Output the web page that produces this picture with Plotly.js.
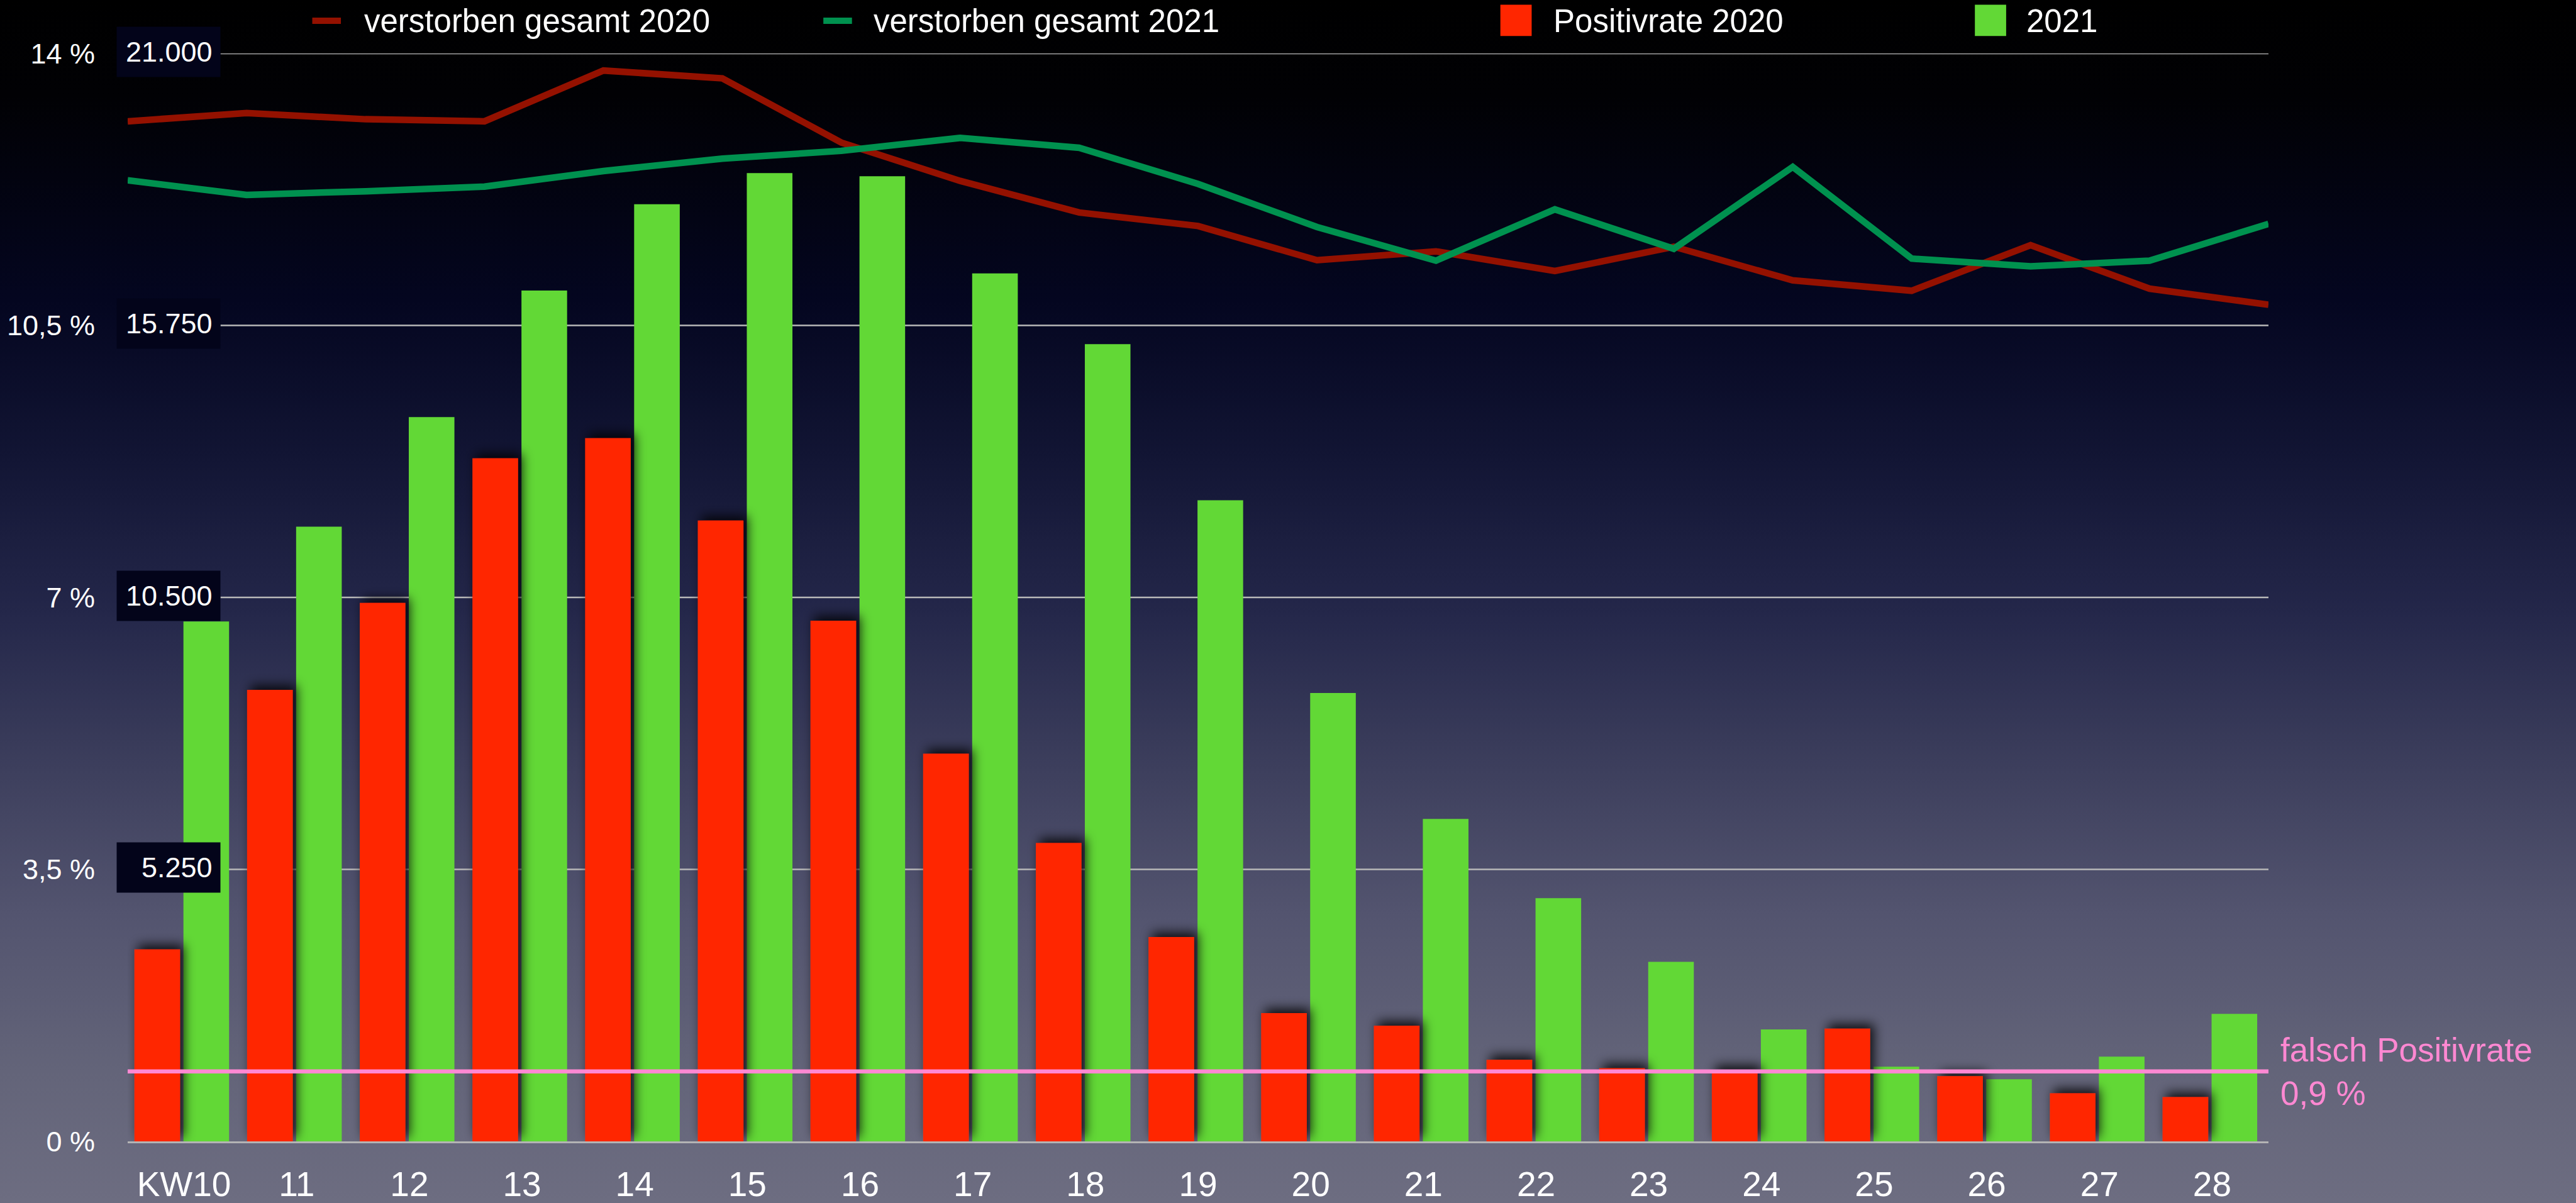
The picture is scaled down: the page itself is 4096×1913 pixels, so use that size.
<!DOCTYPE html>
<html>
<head>
<meta charset="utf-8">
<script src="https://cdn.plot.ly/plotly-3.0.1.min.js"></script>
<style>
html, body { margin: 0; padding: 0; width: 4096px; height: 1913px; overflow: hidden;
  background: linear-gradient(to bottom, #000000 0%, #010104 8%, #040620 25%, #121534 38%, #24274a 51%, #3d3f5d 64%, #53546f 76%, #636479 89%, #6d6d81 100%); }
#chart { width: 4096px; height: 1913px; }
</style>
</head>
<body>
<div id="chart"></div>
<script>
// ---------- data ----------
const weeks = ["KW10","11","12","13","14","15","16","17","18","19","20","21","22","23","24","25","26","27","28"];
const weekNumbers = [10,11,12,13,14,15,16,17,18,19,20,21,22,23,24,25,26,27,28];
const positivrate2020 = [2.47, 5.81, 6.93, 8.79, 9.05, 7.99, 6.70, 4.99, 3.84, 2.63, 1.65, 1.49, 1.05, 0.94, 0.92, 1.45, 0.84, 0.62, 0.57];
const positivrate2021 = [6.69, 7.91, 9.32, 10.95, 12.06, 12.46, 12.42, 11.17, 10.26, 8.25, 5.77, 4.15, 3.13, 2.31, 1.44, 0.96, 0.80, 1.09, 1.64];
const verstorben2020 = [19690, 19850, 19730, 19690, 20670, 20520, 19280, 18540, 17930, 17670, 17010, 17180, 16800, 17270, 16620, 16420, 17300, 16460, 16150];
const verstorben2021 = [18550, 18270, 18340, 18430, 18730, 18970, 19120, 19370, 19180, 18480, 17650, 17000, 17990, 17230, 18810, 17040, 16890, 17000, 17710];
const falschPositivrate = 0.9;
const yTickVals = [0, 3.5, 7, 10.5, 14];
const yTickText = ["0 %", "3,5 %", "7 %", "10,5 %", "14 %"];
const y2TickVals = [5250, 10500, 15750, 21000];
const y2TickText = ["5.250", "10.500", "15.750", "21.000"];
const gridVals = [3.5, 7, 10.5, 14];
const seriesNames = ["verstorben gesamt 2020", "verstorben gesamt 2021", "Positivrate 2020", "2021"];

// ---------- style ----------
const S = 0.843;
const W = 4096, H = 1913;
const ml = 203, mr = 489, mt = 85, mb = 98;
const pw = W - ml - mr, ph = H - mt - mb;
const fx = px => (px - ml) / pw;      // output px -> paper x
const fy = py => (H - mb - py) / ph;  // output px -> paper y
const R = v => v * S;                 // reference px -> output px

const FONT = "Liberation Sans, Arial, Helvetica, sans-serif";
const cRedLine = "#941100", cGreenLine = "#00914f", cRedBar = "#ff2600", cGreenBar = "#62d836", cPink = "#ff88d2";

const data = [
  { type: "bar", x: weeks, y: positivrate2021, name: seriesNames[3], marker: { color: cGreenBar, line: { width: 0 } },
    offset: -0.005, width: 0.405, xaxis: "x", yaxis: "y", hoverinfo: "skip" },
  { type: "bar", x: weeks, y: positivrate2020, name: seriesNames[2], marker: { color: cRedBar, line: { width: 0 } },
    offset: -0.44, width: 0.405, xaxis: "x", yaxis: "y", hoverinfo: "skip" },
  { type: "scatter", mode: "lines", x: weekNumbers, y: verstorben2020, name: seriesNames[0],
    line: { color: cRedLine, width: 10.5 }, xaxis: "x2", yaxis: "y2", hoverinfo: "skip" },
  { type: "scatter", mode: "lines", x: weekNumbers, y: verstorben2021, name: seriesNames[1],
    line: { color: cGreenLine, width: 10.5 }, xaxis: "x2", yaxis: "y2", hoverinfo: "skip" },
  { type: "scatter", mode: "lines", x: [weekNumbers[0], weekNumbers[weekNumbers.length - 1]],
    y: [falschPositivrate, falschPositivrate], name: "falsch Positivrate",
    line: { color: cPink, width: 6.5 }, xaxis: "x2", yaxis: "y", hoverinfo: "skip" }
];

const shapes = [];
const gridX0 = (416 - 241) / 4038;
gridVals.forEach(v => shapes.push({ type: "line", xref: "paper", yref: "y", x0: gridX0, x1: 1, y0: v, y1: v,
  line: { color: "#b9b9b9", width: 2.5 }, layer: "below" }));

// legend symbols
shapes.push({ type: "line", xref: "paper", yref: "paper", x0: fx(R(589)), x1: fx(R(643)), y0: fy(R(39)), y1: fy(R(39)),
  line: { color: cRedLine, width: 10 } });
shapes.push({ type: "line", xref: "paper", yref: "paper", x0: fx(R(1553)), x1: fx(R(1607)), y0: fy(R(39)), y1: fy(R(39)),
  line: { color: cGreenLine, width: 10 } });
shapes.push({ type: "rect", xref: "paper", yref: "paper", x0: fx(R(2830)), x1: fx(R(2889)), y0: fy(R(68)), y1: fy(R(9)),
  fillcolor: cRedBar, line: { width: 0 } });
shapes.push({ type: "rect", xref: "paper", yref: "paper", x0: fx(R(3725)), x1: fx(R(3784)), y0: fy(R(68)), y1: fy(R(9)),
  fillcolor: cGreenBar, line: { width: 0 } });

const annotations = [];
const legTextX = [684, 1645, 2928, 3820];
seriesNames.forEach((n, i) => annotations.push({ xref: "paper", yref: "paper", x: fx(R(legTextX[i])), y: fy(R(40)),
  xanchor: "left", yanchor: "middle", text: n, showarrow: false, font: { family: FONT, size: 51, color: "#ffffff" } }));

y2TickVals.forEach((v, i) => annotations.push({ xref: "paper", yref: "y2", x: gridX0, y: v, xanchor: "right", yanchor: "middle",
  yshift: 3, text: y2TickText[i], showarrow: false, bgcolor: "#03041a", width: 139, height: 54, borderpad: 12.6,
  align: "right", valign: "middle", font: { family: FONT, size: 45, color: "#ffffff" } }));

annotations.push({ xref: "paper", yref: "y", x: (4299 - 241) / 4038, y: falschPositivrate, xanchor: "left", yanchor: "middle",
  align: "left", showarrow: false, text: "falsch Positivrate<br>" + String(falschPositivrate).replace(".", ",") + " %",
  font: { family: FONT, size: 53, color: cPink } });

const layout = {
  width: W, height: H,
  margin: { l: ml, r: mr, t: mt, b: mb, pad: 0 },
  paper_bgcolor: "rgba(0,0,0,0)", plot_bgcolor: "rgba(0,0,0,0)",
  showlegend: false, barmode: "overlay",
  font: { family: FONT, color: "#ffffff" },
  xaxis: { type: "category", range: [-0.5, 18.5], domain: [0, 1], showgrid: false, zeroline: false,
    showline: true, linecolor: "#b4b4b4", linewidth: 3, ticks: "outside", ticklen: 18, tickcolor: "rgba(0,0,0,0)",
    tickfont: { family: FONT, size: 55, color: "#ffffff" }, fixedrange: true },
  xaxis2: { overlaying: "x", range: [10, 28], visible: false, fixedrange: true },
  yaxis: { range: [0, 14], tickvals: yTickVals, ticktext: yTickText, showgrid: false, zeroline: false, showline: false,
    ticks: "outside", ticklen: 42, tickcolor: "rgba(0,0,0,0)", tickfont: { family: FONT, size: 45, color: "#ffffff" }, fixedrange: true },
  yaxis2: { overlaying: "y", range: [0, 21000], visible: false, fixedrange: true },
  shapes: shapes,
  annotations: annotations
};

Plotly.newPlot("chart", data, layout, { staticPlot: true, displayModeBar: false }).then(gd => {
  const svg = gd.querySelector("svg.main-svg");
  const NS = "http://www.w3.org/2000/svg";
  let defs = svg.querySelector("defs");
  if (!defs) { defs = document.createElementNS(NS, "defs"); svg.insertBefore(defs, svg.firstChild); }
  const f = document.createElementNS(NS, "filter");
  f.setAttribute("id", "barShadow");
  f.setAttribute("x", "-10%"); f.setAttribute("y", "-10%"); f.setAttribute("width", "120%"); f.setAttribute("height", "120%");
  const ds = document.createElementNS(NS, "feDropShadow");
  ds.setAttribute("dx", "6"); ds.setAttribute("dy", "-7"); ds.setAttribute("stdDeviation", "9");
  ds.setAttribute("flood-color", "#000000"); ds.setAttribute("flood-opacity", "0.85");
  f.appendChild(ds); defs.appendChild(f);
  const traces = gd.querySelectorAll(".barlayer .trace.bars");
  if (traces.length > 1) traces[1].setAttribute("filter", "url(#barShadow)");
});
</script>
</body>
</html>
